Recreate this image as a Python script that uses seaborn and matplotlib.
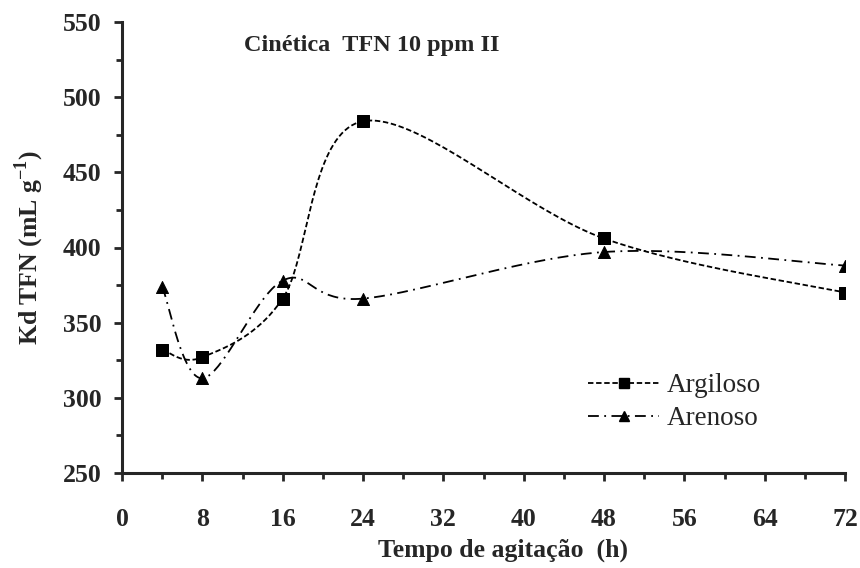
import numpy as np
import pandas as pd
import matplotlib
matplotlib.use("Agg")
import matplotlib.pyplot as plt
from matplotlib.ticker import MultipleLocator
from matplotlib.lines import Line2D
import seaborn as sns

# ---- data ----
tempo = [4, 8, 16, 24, 48, 72]
argiloso = [332, 327, 366, 484, 406, 370]
arenoso = [374, 313, 378, 366, 397, 388]
x_ticks = [0, 8, 16, 24, 32, 40, 48, 56, 64, 72]
y_ticks = [250, 300, 350, 400, 450, 500, 550]

sns.set_style("ticks")
plt.rcParams['font.family'] = ['Liberation Serif', 'DejaVu Serif']
plt.rcParams['mathtext.fontset'] = 'custom'
plt.rcParams['mathtext.rm'] = 'Liberation Serif'
plt.rcParams['mathtext.bf'] = 'Liberation Serif:bold'


def smooth(xs, ys, n=40):
    """Excel-like smoothed line: Bezier segments with Catmull-Rom tangents."""
    P = np.column_stack([xs, ys]).astype(float)
    sx, sy = 723 / 72.0, 451 / 300.0
    S = P * [sx, sy]
    out = []
    m = len(S)
    for i in range(m - 1):
        p0 = S[i - 1] if i > 0 else S[i]
        p1 = S[i]
        p2 = S[i + 1]
        p3 = S[i + 2] if i + 2 < m else S[i + 1]
        c1 = p1 + (p2 - p0) / 6.0
        c2 = p2 - (p3 - p1) / 6.0
        t = np.linspace(0, 1, n)[:, None]
        seg = ((1 - t) ** 3) * p1 + 3 * ((1 - t) ** 2) * t * c1 + 3 * (1 - t) * t ** 2 * c2 + t ** 3 * p2
        out.append(seg if i == 0 else seg[1:])
    C = np.vstack(out) / [sx, sy]
    return C[:, 0], C[:, 1]


fig = plt.figure(figsize=(8.6, 5.68), dpi=100)
ax = fig.add_axes([122 / 860, 1 - 473 / 568, (845 - 122) / 860, (473 - 22) / 568])

df = pd.DataFrame({"tempo": tempo, "Argiloso": argiloso, "Arenoso": arenoso})

xa, ya = smooth(tempo, argiloso)
ax.plot(xa, ya, color="black", lw=1.3, linestyle=(0, (3, 1.5)))
xb, yb = smooth(tempo, arenoso)
ax.plot(xb, yb, color="black", lw=1.3, linestyle=(0, (6, 3, 1, 3)))

sns.scatterplot(data=df, x="tempo", y="Argiloso", marker="s", s=80, color="black",
                edgecolor="black", ax=ax, zorder=5)
sns.scatterplot(data=df, x="tempo", y="Arenoso", marker="^", s=75, color="black",
                edgecolor="black", ax=ax, zorder=5)

ax.set_xlim(0, 72)
ax.set_ylim(250, 550)
ax.set_xticks(x_ticks)
ax.set_yticks(y_ticks)
ax.xaxis.set_minor_locator(MultipleLocator(4))
ax.yaxis.set_minor_locator(MultipleLocator(25))
ax.tick_params(axis="both", which="major", length=6, width=2, labelsize=18.5)
ax.tick_params(axis="both", which="minor", length=4, width=2)
ax.tick_params(axis="x", which="major", pad=19)
ax.tick_params(axis="y", which="major", pad=9)
for lab in ax.get_xticklabels() + ax.get_yticklabels():
    lab.set_fontweight("bold")

for side in ["top", "right"]:
    ax.spines[side].set_visible(False)
for side in ["left", "bottom"]:
    ax.spines[side].set_linewidth(2.2)

ax.set_xlabel("Tempo de agitação  (h)", fontsize=18.5, fontweight="bold")
ax.xaxis.set_label_coords((503 - 122) / 723, -(550 - 473) / 451)
ax.xaxis.label.set_va("center")
ax.set_ylabel(r"Kd TFN (mL g$^{\mathbf{-1}}$)", fontsize=18.5, fontweight="bold", labelpad=12)

ax.text(0.345, 0.948, "Cinética  TFN 10 ppm II", transform=ax.transAxes,
        ha="center", va="center", fontsize=17.5, fontweight="bold")

handles = [
    Line2D([], [], color="black", lw=1.3, linestyle=(0, (3, 1.5)), marker="s", markersize=7),
    Line2D([], [], color="black", lw=1.3, linestyle=(0, (6, 3, 1, 3)), marker="^", markersize=7),
]
ax.legend(handles, ["Argiloso", "Arenoso"], loc="upper left", bbox_to_anchor=(0.63, 0.245),
          frameon=False, fontsize=19.5, handlelength=2.6, handletextpad=0.3,
          labelspacing=0.3, borderaxespad=0)

fig.savefig("out.png", dpi=100)
